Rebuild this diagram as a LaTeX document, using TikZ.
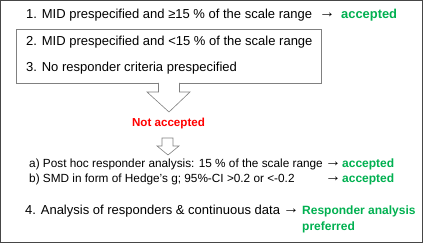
\documentclass[tikz,border=0pt]{standalone}
\usepackage{fontspec}
\setmainfont{Liberation Sans}
\usetikzlibrary{positioning}

\definecolor{okgreen}{RGB}{0,176,80}
\definecolor{frame}{RGB}{70,70,70}
\definecolor{boxgray}{RGB}{128,128,128}

\begin{document}
\begin{tikzpicture}[
    x=1pt, y=-1pt,
    line/.style={
        anchor=west, inner sep=0pt,
        font=\fontsize{13}{15}\selectfont
    },
    subline/.style={
        anchor=west, inner sep=0pt,
        font=\fontsize{11.8}{14}\selectfont
    },
    pointer/.style={
        anchor=west, inner sep=0pt,
        font=\fontsize{16}{16}\selectfont
    },
    verdict/.style={
        anchor=west, inner sep=0pt, text=okgreen,
        font=\fontsize{12}{14}\selectfont\bfseries
    },
    blockarrow/.style={draw=boxgray, fill=white, line width=0.6pt}
]

% outer frame
\draw[frame, line width=1.2pt] (0.6, 0.6) rectangle (422.4, 242.4);

% Case 1
\node[line] (c1) at (26, 15) {1. MID prespecified and ≥15 \% of the scale range};
\node[pointer] (c1a) at (319, 15) {→};
\node[verdict, font=\fontsize{12.9}{15}\selectfont\bfseries] (c1v) at (341, 15) {accepted};

% Cases 2 and 3 - box
\draw[boxgray, line width=0.6pt] (16, 29) rectangle (321, 83);
\node[line] (c2) at (26, 42) {2. MID prespecified and <15 \% of the scale range};
\node[line] (c3) at (26, 68) {3. No responder criteria prespecified};

% big down arrow
\fill[white] (158.5, 82) -- (158.5, 92) -- (147, 92) -- (169, 112) -- (190, 92) -- (179.5, 92) -- (179.5, 82) -- cycle;
\draw[boxgray, line width=0.6pt] (158.5, 83) -- (158.5, 92) -- (147, 92) -- (169, 112) -- (190, 92) -- (179.5, 92) -- (179.5, 83);

\node[inner sep=0pt, text=red, font=\fontsize{11.6}{14}\selectfont\bfseries] (rej) at (168.5, 124) {Not accepted};

% small down arrow
\draw[blockarrow] (162, 138) -- (162, 146) -- (157, 146) -- (168, 155) -- (179, 146) -- (173, 146) -- (173, 138) -- cycle;

% a) and b)
\node[subline] (sa) at (29, 164) {a) Post hoc responder analysis: 15 \% of the scale range};
\node[pointer] (saa) at (325, 164) {→};
\node[verdict] (sav) at (342, 164) {accepted};

\node[subline] (sb) at (29, 179) {b) SMD in form of Hedge's g; 95\%-CI >0.2 or <-0.2};
\node[pointer] (sba) at (325, 179) {→};
\node[verdict] (sbv) at (342, 179) {accepted};

% Case 4
\node[line] (c4) at (25, 211) {4. Analysis of responders \& continuous data};
\node[pointer] (c4a) at (283, 211) {→};
\node[verdict] (c4v) at (302, 211) {Responder analysis};
\node[verdict] (c4p) at (302, 227) {preferred};

\useasboundingbox (0, 0) rectangle (423, 243);
\end{tikzpicture}
\end{document}
